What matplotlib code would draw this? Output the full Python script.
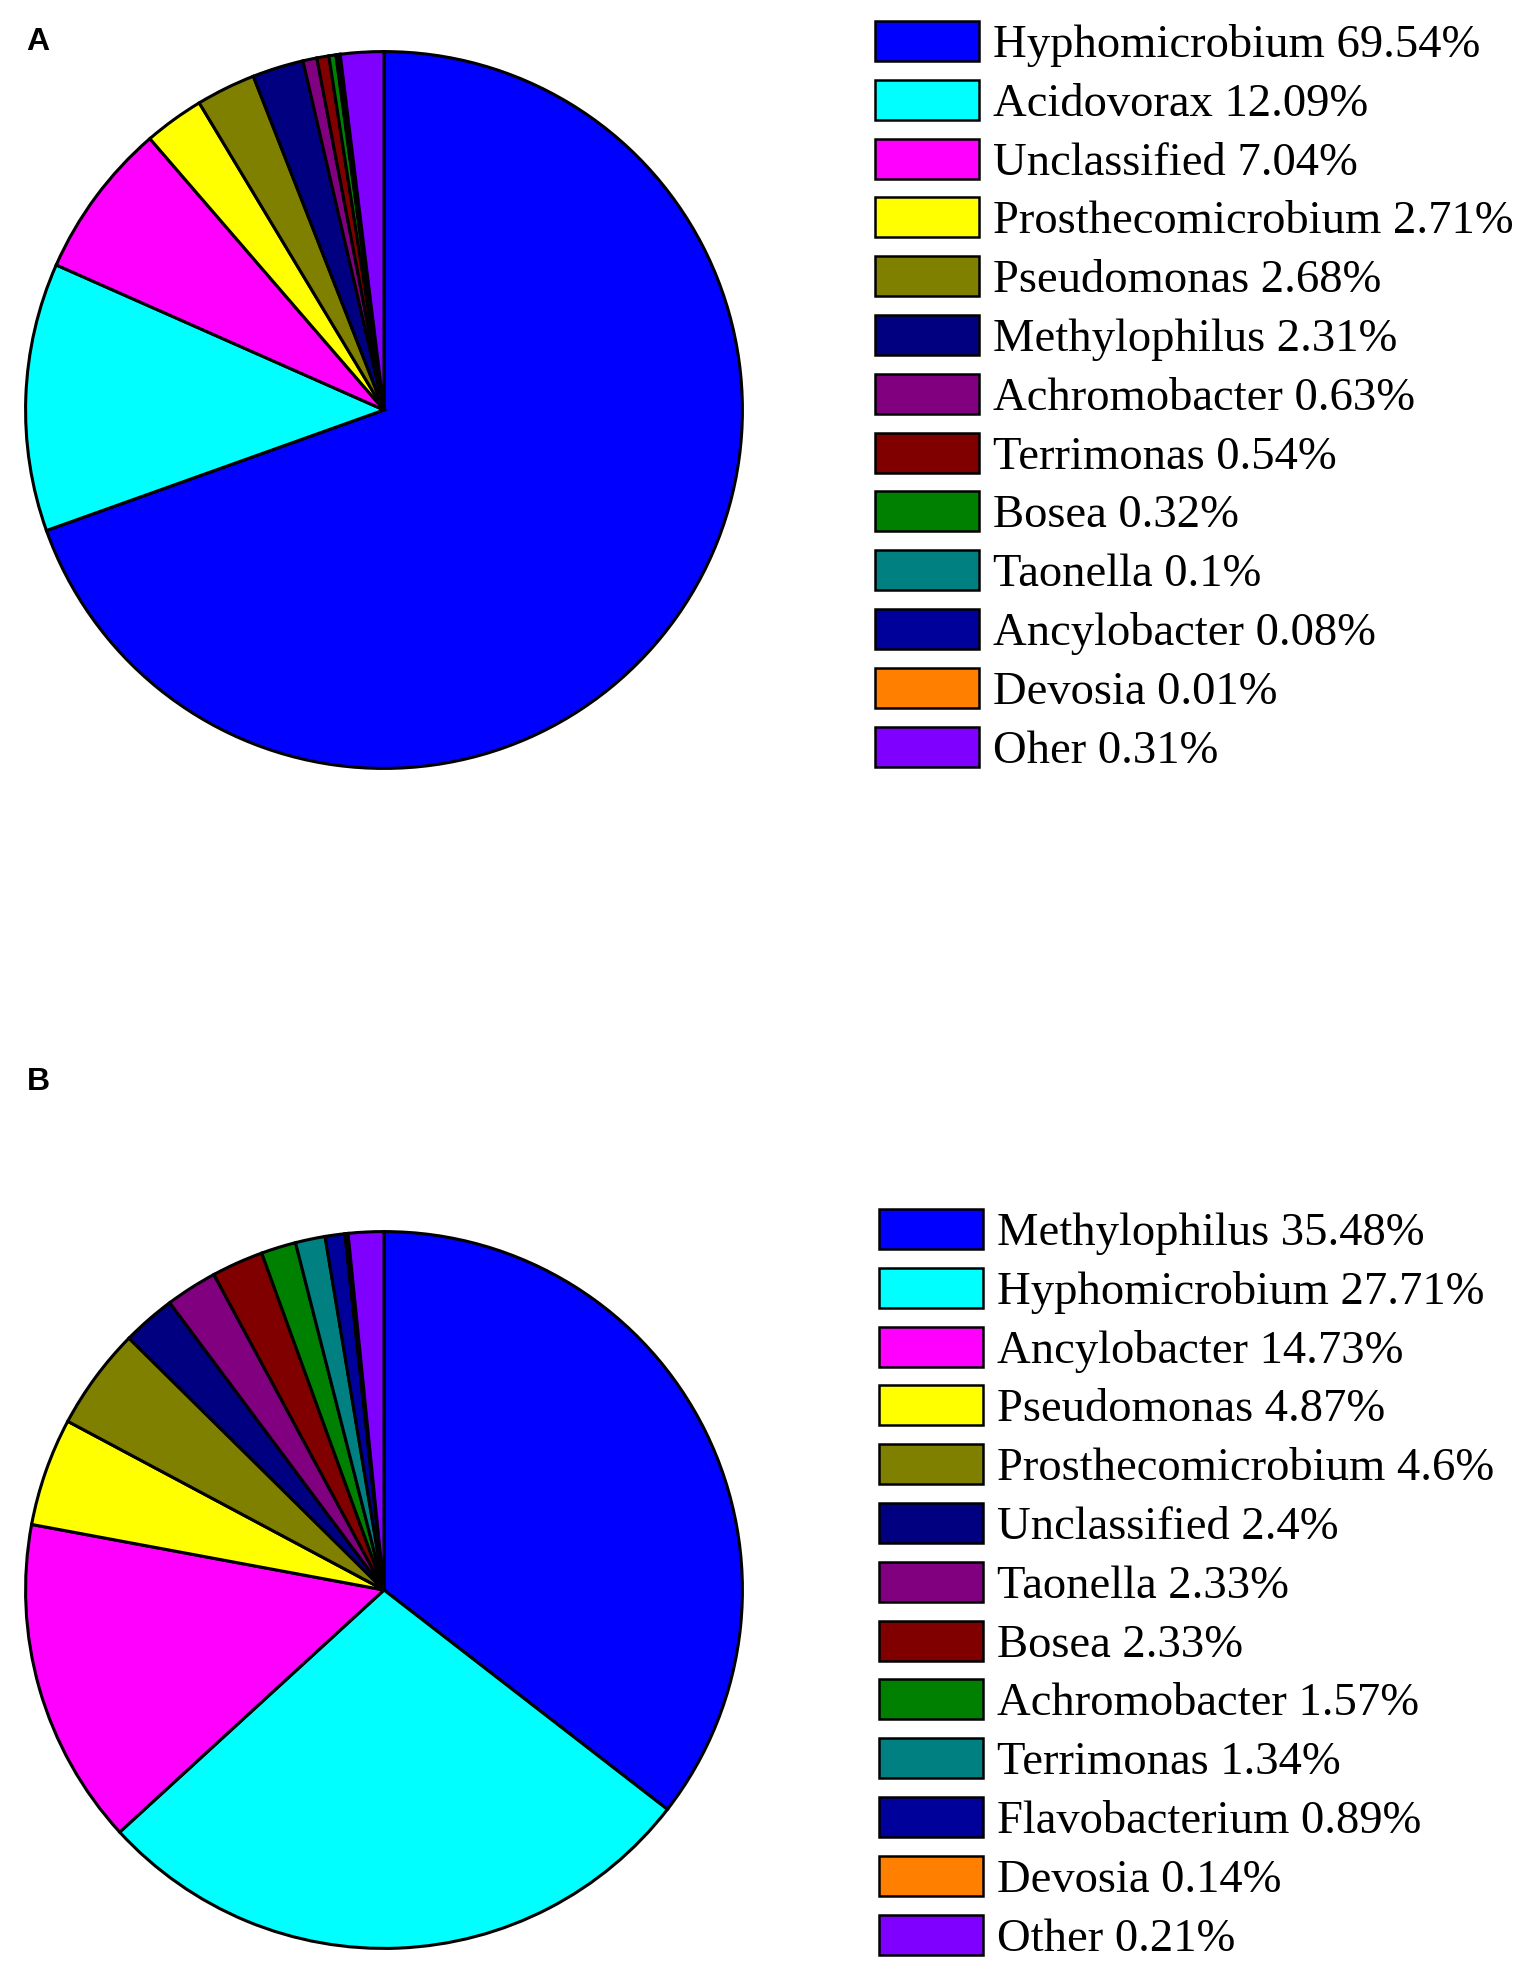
import matplotlib
matplotlib.use('Agg')
import matplotlib.pyplot as plt
from matplotlib.patches import Rectangle

W, H = 1536, 1979

# ── panel A ──────────────────────────────────────────────────────────────────
a_names = ['Hyphomicrobium', 'Acidovorax', 'Unclassified', 'Prosthecomicrobium',
           'Pseudomonas', 'Methylophilus', 'Achromobacter', 'Terrimonas',
           'Bosea', 'Taonella', 'Ancylobacter', 'Devosia', 'Oher']
a_pct = [69.54, 12.09, 7.04, 2.71, 2.68, 2.31, 0.63, 0.54, 0.32, 0.1, 0.08, 0.01, 0.31]
a_other_slice = 1.95   # drawn "other" wedge is larger than its label

# ── panel B ──────────────────────────────────────────────────────────────────
b_names = ['Methylophilus', 'Hyphomicrobium', 'Ancylobacter', 'Pseudomonas',
           'Prosthecomicrobium', 'Unclassified', 'Taonella', 'Bosea',
           'Achromobacter', 'Terrimonas', 'Flavobacterium', 'Devosia', 'Other']
b_pct = [35.48, 27.71, 14.73, 4.87, 4.6, 2.4, 2.33, 2.33, 1.57, 1.34, 0.89, 0.14, 0.21]
b_other_slice = 1.6

colors = ['#0000FF', '#00FFFF', '#FF00FF', '#FFFF00', '#808000', '#000080',
          '#800080', '#800000', '#008000', '#008080', '#00009A', '#FF8000', '#8000FF']

fig = plt.figure(figsize=(W / 100, H / 100), dpi=100)


def pie_panel(cx, cy, r, values):
    # axes placed in pixel coords so the circle lands where the original is
    ax = fig.add_axes([(cx - r) / W, 1 - (cy + r) / H, 2 * r / W, 2 * r / H])
    ax.pie(values, colors=colors, startangle=90, counterclock=False, radius=1,
           wedgeprops=dict(edgecolor='black', linewidth=2.2))
    ax.set_xlim(-1.01, 1.01)
    ax.set_ylim(-1.01, 1.01)
    ax.set_aspect('equal')
    ax.axis('off')


pie_panel(384, 410, 362, a_pct[:-1] + [a_other_slice])
pie_panel(384, 1590, 362, b_pct[:-1] + [b_other_slice])

# overlay in pixel coords for legends and panel letters
ov = fig.add_axes([0, 0, 1, 1], zorder=5)
ov.set_xlim(0, W)
ov.set_ylim(H, 0)
ov.axis('off')
ov.patch.set_alpha(0)


def legend_block(x0, y0, names, pcts):
    for i, (n, p) in enumerate(zip(names, pcts)):
        yc = y0 + i * 58.8
        ov.add_patch(Rectangle((x0, yc - 20), 104, 40, facecolor=colors[i],
                               edgecolor='black', linewidth=1.8))
        ov.text(x0 + 118, yc + 16, f'{n} {p:g}%', fontsize=33.6,
                family='Liberation Serif', va='baseline', ha='left')


legend_block(875, 41, a_names, a_pct)
legend_block(879, 1229, b_names, b_pct)

ov.text(38, 42, 'A', fontsize=23, fontweight='bold', family='Liberation Sans',
        ha='center', va='center')
ov.text(38, 1082, 'B', fontsize=23, fontweight='bold', family='Liberation Sans',
        ha='center', va='center')

fig.savefig('out.png', dpi=100)
